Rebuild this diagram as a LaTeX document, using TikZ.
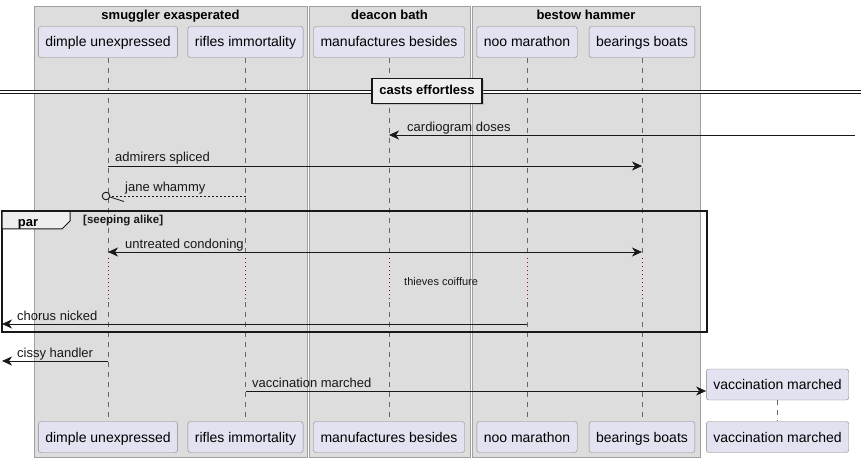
\documentclass[tikz,border=0pt]{standalone}
\usepackage{fontspec}
\setmainfont{Liberation Sans}
\usetikzlibrary{arrows.meta,positioning,shadows}
\definecolor{boxgray}{HTML}{DDDDDD}
\definecolor{boxline}{HTML}{A0A0A0}
\definecolor{partfill}{HTML}{E2E2F0}
\definecolor{partline}{HTML}{888888}
\definecolor{lifegray}{HTML}{666666}
\definecolor{tabgray}{HTML}{EEEEEE}
\definecolor{delayred}{HTML}{A80036}
\definecolor{ink}{HTML}{181818}
\tikzset{
  grp/.style={draw=boxline, fill=boxgray, line width=0.8pt},
  grptitle/.style={font=\fontsize{13}{15}\selectfont\bfseries, anchor=base, inner sep=0pt},
  part/.style={draw=partline, fill=partfill, rounded corners=2.5pt, minimum height=31pt,
    inner xsep=7pt, text height=12pt, text depth=2pt, font=\fontsize{14}{16}\selectfont},
  life/.style={lifegray, dash pattern=on 5pt off 5pt, line width=0.6pt},
  dly/.style={delayred, dash pattern=on 1pt off 3pt, line width=0.8pt},
  msg/.style={ink, line width=0.8pt, -{Stealth[length=10pt,width=9pt,inset=3pt]}},
  lbl/.style={font=\fontsize{13}{15}\selectfont, anchor=base west, inner sep=0pt, text=ink},
}
\begin{document}
\begin{tikzpicture}[x=1pt,y=-1pt]
\useasboundingbox[fill=white] (0,0) rectangle (861,462);
% boxes
\draw[grp] (34,6) rectangle (307,457);
\draw[grp] (309,6) rectangle (470,457);
\draw[grp] (472,6) rectangle (700,457);
\node[grptitle] (gsmug) at (170.5,19.5) {smuggler exasperated};
\node[grptitle] (gdeac) at (389.5,19.5) {deacon bath};
\node[grptitle] (gbest) at (586,19.5) {bestow hammer};
% rows
\coordinate (dlytop) at (0,258);
\coordinate (dlybot) at (0,302);
\foreach \n/\x/\t in {dimple/108/dimple unexpressed, rifles/245.5/rifles immortality,
    manuf/389/manufactures besides, noo/527/noo marathon, bear/642/bearings boats}{
  \node[part] (\n-t) at (\x,42) {\t};
  \node[part] (\n-b) at (\x,437) {\t};
  \draw[life] (\n-t) -- (\n-t |- dlytop);
  \draw[dly] (\n-t |- dlytop) -- (\n-t |- dlybot);
  \draw[life] (\n-t |- dlybot) -- (\n-b);
}
\node[part] (vacc-t) at (777.5,384.5) {vaccination marched};
\node[part] (vacc-b) at (777.5,437) {vaccination marched};
\draw[life] (vacc-t) -- (vacc-b);
% divider
\coordinate (divl) at (0,92.3);
\coordinate (divr) at (861,92.3);
\draw[ink, line width=0.9pt, double=white, double distance=2pt] (divl) -- (divr);
\node[draw=ink, line width=1.6pt, fill=tabgray, minimum width=110pt, minimum height=25pt,
  font=\fontsize{13}{15}\selectfont\bfseries, text height=10pt, text depth=2pt,
  drop shadow={shadow xshift=1.5pt, shadow yshift=-1.5pt, fill=gray!70}] (div) at (427,91) {casts effortless};
% messages
\coordinate (r1) at (855,135);
\draw[msg] (r1) -- (manuf-t |- r1);
\node[lbl] (l1) at (407,131.5) {cardiogram doses};
\coordinate (r2) at (0,166);
\draw[msg] (dimple-t |- r2) -- (bear-t |- r2);
\node[lbl] (l2) at (115,162) {admirers spliced};
\coordinate (r3) at (0,196);
\draw[ink, line width=0.7pt, dash pattern=on 2pt off 2pt] (rifles-t |- r3) -- ([xshift=2pt]dimple-t |- r3);
\draw[ink, line width=0.9pt] ([xshift=-2pt]dimple-t |- r3) circle (3.8);
\draw[ink, line width=0.8pt] (dimple-t |- r3) ++(2,1) -- ++(14,4.5);
\node[lbl] (l3) at (125,192) {jane whammy};
% par frame
\coordinate (pf1) at (2,211);
\coordinate (pf2) at (707,332);
\draw[ink, line width=1.6pt] (pf1) rectangle (pf2);
\draw[ink, line width=1pt, fill=tabgray] (pf1) -- (70,211) -- (70,221) -- (62,229) -- (2,229) -- cycle;
\draw[ink, line width=1.6pt] (pf1) -- (70,211);
\node[grptitle] (par) at (28,226) {par};
\node[lbl, font=\fontsize{11.5}{13}\selectfont\bfseries] (guard) at (83,224) {[seeping alike]};
\coordinate (r4) at (0,252);
\draw[msg, {Stealth[length=10pt,width=9pt,inset=3pt]}-{Stealth[length=10pt,width=9pt,inset=3pt]}] (dimple-t |- r4) -- (bear-t |- r4);
\node[lbl] (l4) at (125,248) {untreated condoning};
\node[lbl, font=\fontsize{11}{13}\selectfont] (l5) at (404,285) {thieves coiffure};
\coordinate (r6) at (2,324);
\draw[msg] (noo-t |- r6) -- (r6);
\node[lbl] (l6) at (17,320) {chorus nicked};
% after frame
\coordinate (r7) at (2,361);
\draw[msg] (dimple-t |- r7) -- (r7);
\node[lbl] (l7) at (17,357) {cissy handler};
\coordinate (r8) at (0,391);
\draw[msg] (rifles-t |- r8) -- (vacc-t.west |- r8);
\node[lbl] (l8) at (252,387) {vaccination marched};
\end{tikzpicture}
\end{document}
